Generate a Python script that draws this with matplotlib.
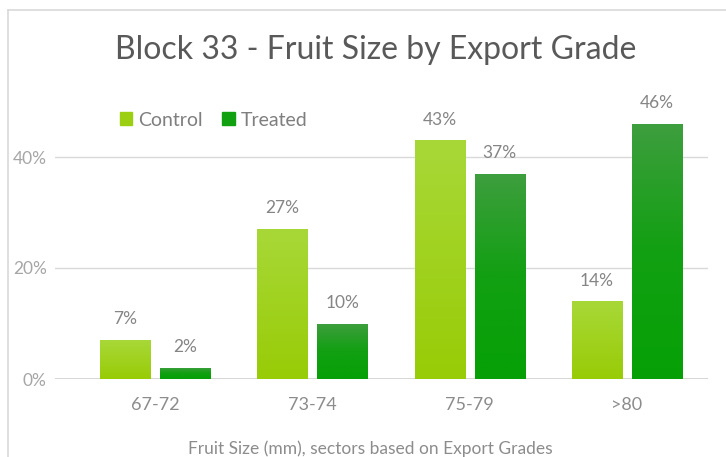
import numpy as np
import matplotlib
matplotlib.use("Agg")
import matplotlib.pyplot as plt
from matplotlib.colors import LinearSegmentedColormap
from matplotlib.lines import Line2D
from matplotlib.patches import Rectangle

categories = ["67-72", "73-74", "75-79", ">80"]
control = [7, 27, 43, 14]
treated = [2, 10, 37, 46]
series_names = ["Control", "Treated"]
y_ticks = [0, 20, 40]
y_tick_labels = ["0%", "20%", "40%"]

plt.rcParams["font.family"] = ["Lato", "DejaVu Sans"]

W, H = 726, 457
fig = plt.figure(figsize=(W / 100, H / 100), dpi=100)
fig.patch.set_facecolor("white")

# chart frame (top and left edges visible)
fig.add_artist(Line2D([8 / W, 8 / W], [0, 1 - 10 / H], transform=fig.transFigure,
                      color="#D9D9D9", lw=1.2))
fig.add_artist(Line2D([8 / W, 1], [1 - 10 / H, 1 - 10 / H], transform=fig.transFigure,
                      color="#D9D9D9", lw=1.2))

ax = fig.add_axes([55 / W, 78 / H, 653 / W, 277.5 / H])

for s in ax.spines.values():
    s.set_visible(False)
ax.tick_params(length=0)
ax.set_yticks(y_ticks)
ax.set_yticklabels(y_tick_labels, color="#A6A6A6", fontsize=12.5)
ax.yaxis.set_tick_params(pad=6)
ax.set_xticks(range(len(categories)))
ax.set_xticklabels(categories, color="#8C8C8C", fontsize=13)
ax.xaxis.set_tick_params(pad=13)
ax.grid(axis="y", color="#D9D9D9", lw=1)
ax.set_axisbelow(True)

ctrl_cmap = LinearSegmentedColormap.from_list("ctrl", ["#A8D838", "#98CC06"])
trt_cmap = LinearSegmentedColormap.from_list("trt", ["#3E9E3E", "#12A012", "#06A006"])

width = 50 / 157
offset = 30 / 157
x = np.arange(len(categories))
grad = np.linspace(0, 1, 256).reshape(-1, 1)

for vals, sign, cmap, name in [(control, -1, ctrl_cmap, series_names[0]),
                               (treated, 1, trt_cmap, series_names[1])]:
    bars = ax.bar(x + sign * offset, vals, width, color=cmap(0.6), label=name, zorder=2)
    for b, v in zip(bars, vals):
        x0, y0 = b.get_x(), b.get_y()
        w, h = b.get_width(), b.get_height()
        im = ax.imshow(grad, extent=(x0, x0 + w, y0, y0 + h), origin="upper",
                       cmap=cmap, aspect="auto", zorder=3)
        im.set_clip_path(b)
        ax.text(x0 + w / 2, v + 2.3, f"{v}%", ha="center", va="bottom",
                fontsize=12.5, color="#858585", zorder=4)

ax.set_xlim(-100 / 157, 3 + 81 / 157)
ax.set_ylim(0, 50)

# baseline
ax.axhline(0, color="#D0D0D0", lw=1.2, zorder=1)

fig.text(376 / W, 1 - 50 / H, "Block 33 - Fruit Size by Export Grade",
         ha="center", va="center", fontsize=23, color="#595959")

leg = ax.legend(handles=[Rectangle((0, 0), 1, 1, color="#9CCF12"),
                         Rectangle((0, 0), 1, 1, color="#10A010")],
                labels=series_names, loc="center left",
                bbox_to_anchor=(112 / W, 1 - 120 / H), bbox_transform=fig.transFigure,
                ncol=2, frameon=False, fontsize=14, handlelength=0.65, handleheight=0.65,
                handletextpad=0.3, columnspacing=1.0, labelcolor="#7F7F7F", borderaxespad=0)

fig.text(370 / W, 1 - 449 / H, "Fruit Size (mm), sectors based on Export Grades",
         ha="center", va="center", fontsize=12.5, color="#8C8C8C")

fig.savefig("out.png", dpi=100, facecolor="white")
